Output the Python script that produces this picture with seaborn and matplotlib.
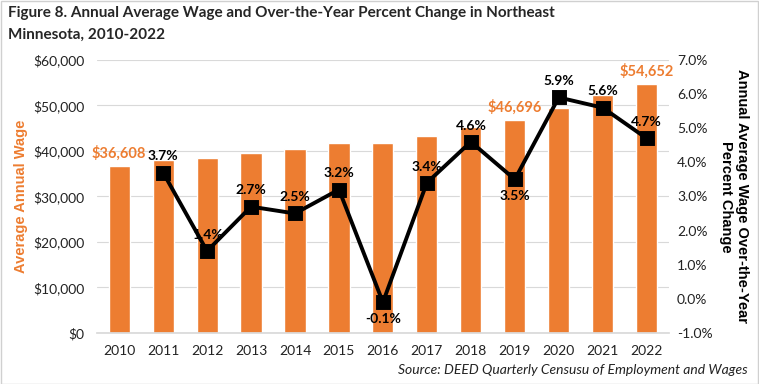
import matplotlib
matplotlib.use("Agg")
import matplotlib.pyplot as plt
import seaborn as sns
import numpy as np
import pandas as pd
from matplotlib.patches import Rectangle

years = ["2010", "2011", "2012", "2013", "2014", "2015", "2016",
         "2017", "2018", "2019", "2020", "2021", "2022"]
wages = [36608, 37962, 38494, 39533, 40521, 41818, 41776,
         43196, 45183, 46696, 49451, 52220, 54652]
pct_change = [None, 3.7, 1.4, 2.7, 2.5, 3.2, -0.1, 3.4, 4.6, 3.5, 5.9, 5.6, 4.7]
wage_labels = {"2010": "$36,608", "2019": "$46,696", "2022": "$54,652"}
pct_below = {"2016", "2019"}

title = "Figure 8. Annual Average Wage and Over-the-Year Percent Change in Northeast\nMinnesota, 2010-2022"
source = "Source: DEED Quarterly Censusu of Employment and Wages"

ORANGE = "#ED7D31"

sns.set_theme(style="white")
plt.rcParams["font.family"] = ["Lato", "DejaVu Sans"]

df = pd.DataFrame({"year": years, "wage": wages,
                   "pct": [np.nan if v is None else v for v in pct_change]})

fig = plt.figure(figsize=(7.59, 3.84), dpi=100)
ax = fig.add_axes([0.128, 0.133, 0.753, 0.711])

sns.barplot(data=df, x="year", y="wage", color=ORANGE, saturation=1,
            width=0.48, ax=ax, zorder=2)
ax.set_ylim(0, 60000)
ax.set_yticks(np.arange(0, 60001, 10000))
ax.set_yticklabels([f"${v:,.0f}" for v in np.arange(0, 60001, 10000)])
ax.yaxis.grid(True, color="#D9D9D9", linewidth=0.8, zorder=0)
ax.set_axisbelow(True)
ax.set_xlabel("")
ax.set_ylabel("Average Annual Wage", color=ORANGE, fontweight="bold",
              fontsize=10.5, family=["Liberation Sans"], labelpad=4)
for s in ax.spines.values():
    s.set_visible(False)
ax.spines["bottom"].set_visible(True)
ax.spines["bottom"].set_color("#D9D9D9")
ax.tick_params(axis="y", length=0, labelsize=10, colors="#222222", pad=9)
ax.tick_params(axis="x", length=0, labelsize=10, colors="#222222", pad=9)

for i, y in enumerate(years):
    if y in wage_labels:
        ax.text(i, wages[i] + 1300, wage_labels[y], ha="center", va="bottom",
                color=ORANGE, fontweight="bold", fontsize=10.5)

ax2 = ax.twinx()
sns.pointplot(data=df, x="year", y="pct", color="black", markers="s",
              linestyles="-", ax=ax2, zorder=3,
              markersize=8, linewidth=2.8)
ax2.set_ylim(-1, 7)
ax2.set_yticks(np.arange(-1, 7.01, 1))
ax2.set_yticklabels([f"{v:.1f}%" for v in np.arange(-1, 7.01, 1)])
ax2.set_xlim(-0.5, len(years) - 0.5)
ax.set_xlim(-0.5, len(years) - 0.5)
ax2.set_ylabel("Annual Average Wage Over-the-Year\nPercent Change", rotation=-90,
               fontweight="bold", fontsize=10.5, family=["Liberation Sans"],
               labelpad=26, color="black")
for s in ax2.spines.values():
    s.set_visible(False)
ax2.tick_params(axis="both", length=0, labelsize=10, colors="#222222", pad=6)
ax2.grid(False)

for i, y in enumerate(years):
    v = pct_change[i]
    if v is None:
        continue
    if y in pct_below:
        ax2.text(i, v - 0.32, f"{v:.1f}%", ha="center", va="top",
                 fontweight="bold", fontsize=10, color="black")
    else:
        ax2.text(i, v + 0.3, f"{v:.1f}%", ha="center", va="bottom",
                 fontweight="bold", fontsize=10, color="black")

fig.text(8 / 759, 1 - 6 / 384, title, ha="left", va="top",
         fontweight="bold", fontsize=11, linespacing=1.75)
fig.text(748 / 759, 1 - 370 / 384, source, ha="right", va="center",
         style="italic", fontsize=10, color="#222222")

fig.add_artist(Rectangle((0.5 / 759, 0.5 / 384), 1 - 1.5 / 759, 1 - 1.5 / 384,
                         transform=fig.transFigure, fill=False,
                         edgecolor="#D0D0D0", linewidth=1))

fig.savefig("out.png", dpi=100)
